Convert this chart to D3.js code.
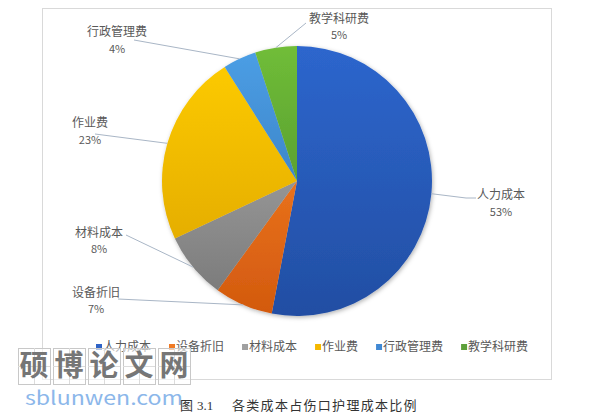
<!DOCTYPE html>
<html lang="zh">
<head>
    <meta charset="UTF-8">
    <title>各类成本占伤口护理成本比例</title>
    <script src="https://d3js.org/d3.v7.min.js"></script>
    <style>
        html, body { margin: 0; padding: 0; background: #fff; }
        svg { display: block; }
        text { font-family: "Noto Sans CJK SC", "Noto Sans", sans-serif; }
    </style>
</head>
<body>
<script>
    // data
    var categories = ["人力成本", "设备折旧", "材料成本", "作业费", "行政管理费", "教学科研费"];
    var values = [53, 7, 8, 23, 4, 5];
    var percentLabels = ["53%", "7%", "8%", "23%", "4%", "5%"];

    var width = 593, height = 418;
    var cx = 297, cy = 181, radius = 135;

    // colours: legend swatch, gradient top, gradient bottom
    var swatch = ["#2e63c6", "#f07a24", "#a0a0a0", "#f5b800", "#4189d4", "#5ea03a"];
    var topColour = ["#2d66cd", "#ff8a2a", "#b4b4b4", "#ffcd05", "#4c9fe6", "#70bd38"];
    var bottomColour = ["#224ea3", "#d2590e", "#767676", "#dba200", "#2f6eae", "#468528"];

    // label placement: name centre x, name y, percent y, leader end points
    var labelPos = [
        {x: 501, y: 195, py: 212, line: [[466, 198], [476, 198]]},
        {x: 96, y: 293, py: 309, line: [[118, 299]]},
        {x: 99, y: 233, py: 249, line: [[126, 235]]},
        {x: 90, y: 123, py: 140, line: [[95, 134]]},
        {x: 117, y: 32, py: 49, line: [[134, 40]]},
        {x: 339, y: 19, py: 35, line: [[306, 23]]}
    ];

    var svg = d3.select("body")
        .append("svg")
        .attr("width", width)
        .attr("height", height);

    var defs = svg.append("defs");

    var shadow = defs.append("filter")
        .attr("id", "shadow")
        .attr("x", "-10%").attr("y", "-10%")
        .attr("width", "120%").attr("height", "120%");
    shadow.append("feDropShadow")
        .attr("dx", 1).attr("dy", 1.5)
        .attr("stdDeviation", 2)
        .attr("flood-color", "#000")
        .attr("flood-opacity", 0.3);

    // vertical gradient per slice, in the pie group's coordinates
    categories.forEach(function(c, i) {
        var g = defs.append("linearGradient")
            .attr("id", "grad" + i)
            .attr("gradientUnits", "userSpaceOnUse")
            .attr("x1", 0).attr("y1", -radius)
            .attr("x2", 0).attr("y2", radius);
        g.append("stop").attr("offset", "0%").attr("stop-color", topColour[i]);
        g.append("stop").attr("offset", "100%").attr("stop-color", bottomColour[i]);
    });

    // chart frame
    svg.append("rect")
        .attr("x", 42.5).attr("y", 8.5)
        .attr("width", 509).attr("height", 371)
        .attr("fill", "#fff")
        .attr("stroke", "#d9d9d9")
        .attr("stroke-width", 1);

    var pie = d3.pie().sort(null).value(function(d) { return d; });
    var arcs = pie(values);
    var arc = d3.arc().innerRadius(0).outerRadius(radius);

    var pieG = svg.append("g")
        .attr("transform", "translate(" + cx + "," + cy + ")");

    pieG.append("g")
        .attr("filter", "url(#shadow)")
        .selectAll("path")
        .data(arcs)
        .enter()
        .append("path")
        .attr("d", arc)
        .attr("fill", function(d, i) { return "url(#grad" + i + ")"; });

    // leader lines
    var line = d3.line();
    svg.append("g")
        .selectAll("path")
        .data(arcs)
        .enter()
        .append("path")
        .attr("d", function(d, i) {
            var a = (d.startAngle + d.endAngle) / 2;
            var start = [cx + radius * Math.sin(a), cy - radius * Math.cos(a)];
            return line([start].concat(labelPos[i].line));
        })
        .attr("fill", "none")
        .attr("stroke", "#a9b6c6")
        .attr("stroke-width", 1);

    // data labels
    var labels = svg.append("g")
        .selectAll("g")
        .data(categories)
        .enter()
        .append("g");

    labels.append("text")
        .attr("x", function(d, i) { return labelPos[i].x; })
        .attr("y", function(d, i) { return labelPos[i].y; })
        .attr("dy", "0.35em")
        .attr("text-anchor", "middle")
        .attr("font-size", 12)
        .attr("fill", "#595959")
        .text(function(d) { return d; });

    labels.append("text")
        .attr("x", function(d, i) { return labelPos[i].x; })
        .attr("y", function(d, i) { return labelPos[i].py; })
        .attr("dy", "0.35em")
        .attr("text-anchor", "middle")
        .attr("font-size", 11)
        .attr("fill", "#595959")
        .text(function(d, i) { return percentLabels[i]; });

    // legend
    var legend = svg.append("g");
    var lx = 96, ly = 347;
    categories.forEach(function(c, i) {
        legend.append("rect")
            .attr("x", lx).attr("y", ly - 3)
            .attr("width", 6).attr("height", 6)
            .attr("fill", swatch[i]);
        var t = legend.append("text")
            .attr("x", lx + 7)
            .attr("y", ly)
            .attr("dy", "0.35em")
            .attr("font-size", 12)
            .attr("fill", "#595959")
            .text(c);
        lx += 7 + t.node().getComputedTextLength() + 18;
    });

    // watermark
    var mark = svg.append("g");
    var markChars = ["硕", "博", "论", "文", "网"];
    markChars.forEach(function(ch, i) {
        var bx = 18 + i * 35, by = 348;
        mark.append("rect")
            .attr("x", bx + 0.5).attr("y", by + 0.5)
            .attr("width", 32).attr("height", 36)
            .attr("fill", "#fff").attr("fill-opacity", 0.6)
            .attr("stroke", "#c8c8c8");
        mark.append("line")
            .attr("x1", bx + 16.5).attr("x2", bx + 16.5)
            .attr("y1", by).attr("y2", by + 36)
            .attr("stroke", "#dcdcdc");
        mark.append("line")
            .attr("x1", bx).attr("x2", bx + 32)
            .attr("y1", by + 18.5).attr("y2", by + 18.5)
            .attr("stroke", "#dcdcdc");
        mark.append("text")
            .attr("x", bx + 16).attr("y", by + 18)
            .attr("dy", "0.36em")
            .attr("text-anchor", "middle")
            .attr("font-size", 29)
            .attr("font-weight", "bold")
            .attr("fill", "#767676")
            .text(ch);
    });
    mark.append("text")
        .attr("x", 25).attr("y", 405)
        .attr("font-family", "'Liberation Sans', Arial, sans-serif")
        .attr("font-size", 19)
        .attr("textLength", 158)
        .attr("lengthAdjust", "spacingAndGlyphs")
        .attr("fill", "#8cb7ea")
        .text("sblunwen.com");

    // caption
    var cap = svg.append("text")
        .attr("x", 180).attr("y", 410)
        .attr("font-size", 13)
        .attr("fill", "#333");
    cap.append("tspan").text("图");
    cap.append("tspan").attr("x", 197)
        .attr("font-family", "'Liberation Serif', 'DejaVu Serif', serif")
        .text("3.1");
    cap.append("tspan").attr("x", 232)
        .attr("letter-spacing", 1.3)
        .text("各类成本占伤口护理成本比例");
</script>
</body>
</html>
